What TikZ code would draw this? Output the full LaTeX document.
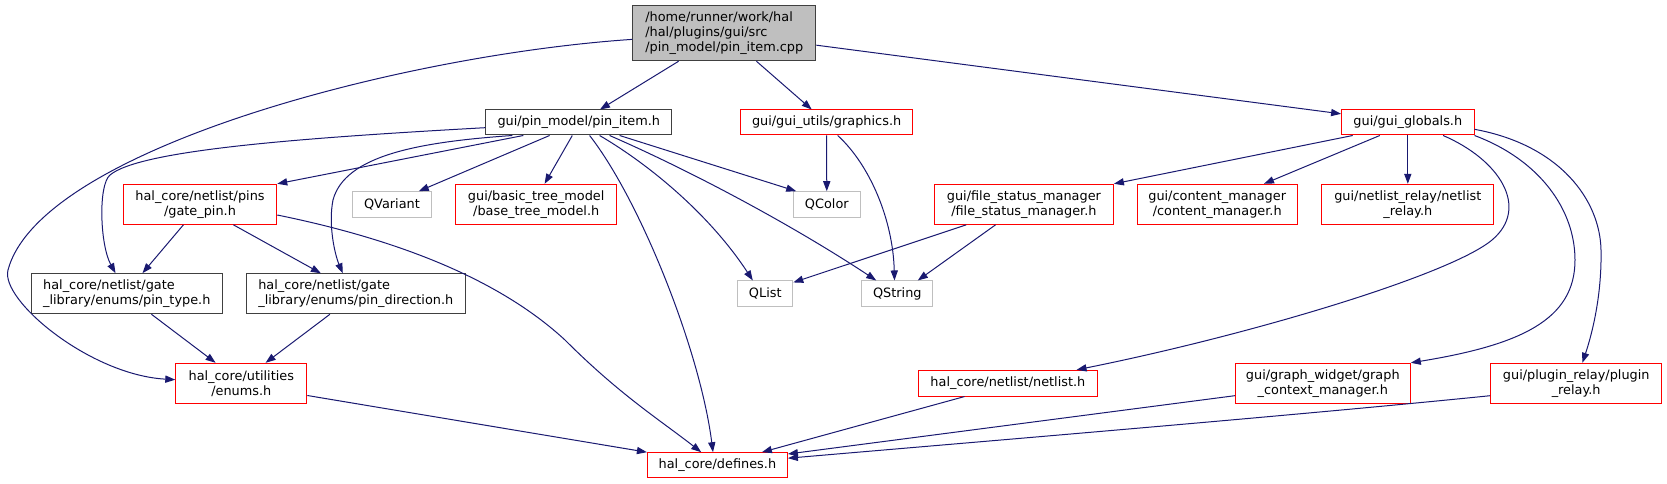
\documentclass[tikz,border=0pt]{standalone}
\usepackage{fontspec}
\setmainfont{DejaVu Sans}
\usetikzlibrary{arrows.meta,calc}
\definecolor{edgec}{HTML}{191970}
\definecolor{redc}{HTML}{FF0000}
\definecolor{blkc}{HTML}{404040}
\definecolor{grayc}{HTML}{BFBFBF}
\begin{document}
\begin{tikzpicture}[x=0.75pt,y=-0.75pt,
  nd/.style 2 args={line width=0.75pt, inner sep=0pt, minimum width=#1*0.75pt, minimum height=#2*0.75pt, align=center, font=\fontsize{9.65pt}{11.25pt}\selectfont},
  rd/.style={draw=redc},
  blk/.style={draw=blkc},
  gr/.style={draw=grayc},
  mainbox/.style={draw=blkc, fill=grayc},
  e/.style={draw=edgec, line width=0.75pt, -{Triangle[length=7.5pt,width=5.4pt]}}]
\useasboundingbox (0,0) rectangle (1667,484);
% nodes
\node[nd={183}{55}, mainbox, align=left] (main) at (724.3,33.2) {/home/runner/work/hal\\/hal/plugins/gui/src\\/pin\_model/pin\_item.cpp};
\node[nd={186}{25}, blk] (pin) at (578.8,122.5) {gui/pin\_model/pin\_item.h};
\node[nd={172}{25}, rd] (gfx) at (826.6,122.5) {gui/gui\_utils/graphics.h};
\node[nd={132.4}{25}, rd] (glob) at (1407.8,122.5) {gui/gui\_globals.h};
\node[nd={153.5}{40}, rd] (gate) at (200,204.3) {hal\_core/netlist/pins\\/gate\_pin.h};
\node[nd={79}{25.6}, gr] (qvar) at (392,204.5) {QVariant};
\node[nd={161}{40}, rd] (btm) at (536.2,204.3) {gui/basic\_tree\_model\\/base\_tree\_model.h};
\node[nd={67}{25.6}, gr] (qcol) at (826.8,204.5) {QColor};
\node[nd={179}{40}, rd] (fsm) at (1023.9,204.3) {gui/file\_status\_manager\\/file\_status\_manager.h};
\node[nd={160}{40}, rd] (cm) at (1217.2,204.3) {gui/content\_manager\\/content\_manager.h};
\node[nd={172}{40}, rd] (nr) at (1407.8,204.3) {gui/netlist\_relay/netlist\\\_relay.h};
\node[nd={190.7}{40}, blk, align=left] (ptype) at (126.8,293.7) {hal\_core/netlist/gate\\\_library/enums/pin\_type.h};
\node[nd={218.8}{40}, blk, align=left] (pdir) at (355.8,293.8) {hal\_core/netlist/gate\\\_library/enums/pin\_direction.h};
\node[nd={55}{25.5}, gr] (qlist) at (765.3,293.7) {QList};
\node[nd={71}{25.5}, gr] (qstr) at (897.3,293.7) {QString};
\node[nd={131}{40}, rd] (enums) at (241.3,383.3) {hal\_core/utilities\\/enums.h};
\node[nd={179.3}{25.7}, rd] (nl) at (1007.9,383.2) {hal\_core/netlist/netlist.h};
\node[nd={175}{40}, rd] (gcm) at (1322.8,383.3) {gui/graph\_widget/graph\\\_context\_manager.h};
\node[nd={171}{40}, rd] (pr) at (1576.2,383.3) {gui/plugin\_relay/plugin\\\_relay.h};
\node[nd={140}{25}, rd] (def) at (717.4,465.2) {hal\_core/defines.h};
% edges from main
\draw[e] (main) -- (pin);
\draw[e] (main) -- (gfx);
\draw[e] (main) -- (glob);
\draw[e] (main) .. controls (400,55) and (40,150) .. (8,270) .. controls (0,300) and (90,375) .. (enums);
% edges from pin_item.h
\draw[e] ($(pin.south west)+(38,0)$) -- (gate.north east);
\draw[e] ($(pin.south west)+(64.3,0)$) -- ($(qvar.north east)+(-13.2,0)$);
\draw[e] ($(pin.south west)+(87,0)$) -- ($(btm.north west)+(89.4,0)$);
\draw[e] ($(pin.south west)+(134.3,0)$) -- ($(qcol.north west)+(3.4,0)$);
\draw[e] ($(pin.south west)+(124.3,0)$) .. controls (700,175) and (800,230) .. ($(qstr.north west)+(14.9,0)$);
\draw[e] ($(pin.south west)+(114.3,0)$) .. controls (650,165) and (710,215) .. ($(qlist.north west)+(15.5,0)$);
\draw[e] ($(pin.south west)+(104.3,0)$) .. controls (640,200) and (700,350) .. ($(def.north west)+(66.1,0)$);
\draw[e] (pin) .. controls (300,138) and (140,150) .. (110,175) .. controls (98,185) and (100,245) .. (ptype);
\draw[e] ($(pin.south west)+(27,0)$) .. controls (420,142) and (345,155) .. (333,200) .. controls (328,225) and (335,255) .. ($(pdir.north west)+(96.9,0)$);
% edges from gate_pin.h
\draw[e] ($(gate.south west)+(60.7,0)$) -- ($(ptype.north west)+(111.5,0)$);
\draw[e] ($(gate.south west)+(110.6,0)$) -- ($(pdir.north west)+(75,0)$);
\draw[e] ($(gate.east)+(0,10.7)$) .. controls (400,240) and (500,280) .. (565,340) .. controls (620,395) and (660,420) .. ($(def.north west)+(54.3,0)$);
% enum edges
\draw[e] ($(ptype.south west)+(120.4,0)$) -- ($(enums.north west)+(40.3,0)$);
\draw[e] ($(pdir.south west)+(84,0)$) -- ($(enums.north west)+(90.3,0)$);
\draw[e] ($(enums.south east)+(0,-8.3)$) -- (def.north west);
% graphics.h
\draw[e] (gfx) -- (qcol);
\draw[e] ($(gfx.south west)+(97.6,0)$) .. controls (870,165) and (893,220) .. ($(qstr.north west)+(33.2,0)$);
% file_status_manager.h
\draw[e] ($(fsm.south west)+(32.4,0)$) -- ($(qlist.north east)+(0,2)$);
\draw[e] ($(fsm.south west)+(61.7,0)$) -- ($(qstr.north west)+(56.5,0)$);
% gui_globals.h
\draw[e] ($(glob.south west)+(11.6,0)$) -- (fsm.north east);
\draw[e] ($(glob.south west)+(38.7,0)$) -- ($(cm.north west)+(127.3,0)$);
\draw[e] (glob) -- (nr);
\draw[e] ($(glob.south west)+(102,0)$) .. controls (1500,160) and (1530,208) .. (1492,240) .. controls (1450,275) and (1250,335) .. ($(nl.north east)+(-21.5,0)$);
\draw[e] (glob.south east) .. controls (1540,160) and (1575,210) .. (1575,260) .. controls (1575,320) and (1520,345) .. (gcm.north east);
\draw[e] ($(glob.east)+(0,6.8)$) .. controls (1560,145) and (1600,200) .. (1601,250) .. controls (1602,300) and (1590,340) .. ($(pr.north west)+(92.2,0)$);
% into defines.h
\draw[e] ($(nl.south west)+(46.8,0)$) -- ($(def.north east)+(-26,0)$);
\draw[e] ($(gcm.west)+(0,12.4)$) -- ($(def.east)+(0,-11.2)$);
\draw[e] ($(pr.west)+(0,12.4)$) .. controls (1300,415) and (1000,440) .. ($(def.east)+(0,-7)$);
\end{tikzpicture}
\end{document}
